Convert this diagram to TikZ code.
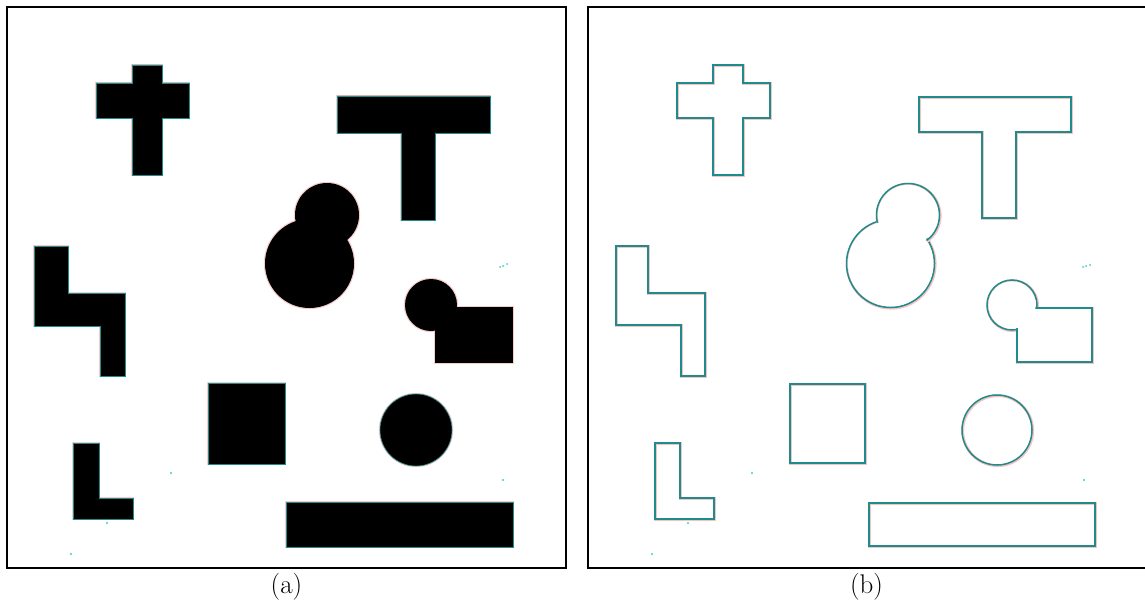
\documentclass[tikz,border=0pt]{standalone}
\usetikzlibrary{calc}
\definecolor{edgeteal}{HTML}{1E8C8C}
\definecolor{halo}{HTML}{F4A8A8}
\definecolor{speck}{HTML}{30D0D0}
\begin{document}
\begin{tikzpicture}[x=1pt,y=-1pt,
  frame/.style={line width=2pt,draw=black},
  solid shape/.style={fill=black,draw=edgeteal,line width=0.6pt,preaction={draw=halo!60,line width=2.4pt}},
  outl/.style={draw=edgeteal,line width=1.5pt,preaction={draw=halo!70,line width=2.8pt,transform canvas={shift={(0.7pt,-0.7pt)}}}},
  blank/.style={fill=white},
  lab/.style={font=\fontsize{27}{30}\selectfont,inner sep=0pt},
  dot/.style={fill=speck}]
\useasboundingbox (0,0) rectangle (1145,607);
% frames
\draw[frame] (7,7.5) rectangle (566,567.5);
\draw[frame] (588,7.5) rectangle (1150,567.5);
\node[lab] (la) at (286.5,587) {(a)};
\node[lab] (lb) at (866.5,587) {(b)};

% ---------- panel (a): solid shapes ----------
\begin{scope}
\path[solid shape] (132,65) -- (162,65) -- (162,83) -- (189,83) -- (189,118) -- (162,118) -- (162,175) -- (132,175) -- (132,118) -- (96,118) -- (96,83) -- (132,83) -- cycle;
\path[solid shape] (337,96) -- (490,96) -- (490,133) -- (435,133) -- (435,220) -- (401,220) -- (401,133) -- (337,133) -- cycle;
\path[solid shape] (34,246) -- (68,246) -- (68,293) -- (125,293) -- (125,376) -- (100,376) -- (100,326) -- (34,326) -- cycle;
\path[solid shape] (73,443) -- (99,443) -- (99,498) -- (133,498) -- (133,519) -- (73,519) -- cycle;
\path[solid shape] (208,383) rectangle (285,464);
\path[solid shape] (286,502) rectangle (513,547);
\path[solid shape] (416,430) circle[radius=36];
% blob
\draw[halo!60,line width=2.4pt] (309.5,263.5) circle[radius=44.5];
\draw[halo!60,line width=2.4pt] (327,215) circle[radius=32];
\fill[black] (309.5,263.5) circle[radius=44.5];
\fill[black] (327,215) circle[radius=32];
% circle + rectangle
\draw[halo!60,line width=2.4pt] (431,305) circle[radius=26];
\draw[halo!60,line width=2.4pt] (435,307) rectangle (513,363);
\fill[black] (431,305) circle[radius=26];
\fill[black] (435,307) rectangle (513,363);
% specks
\fill[dot] (171,473) circle[radius=1.2];
\fill[dot] (71,554) circle[radius=1.2];
\fill[dot] (107,523) circle[radius=1.2];
\fill[dot] (503,480) circle[radius=1.2];
\fill[dot] (500,267) circle[radius=1] (503,266) circle[radius=1] (507,264) circle[radius=1];
\end{scope}

% ---------- panel (b): outlines ----------
\begin{scope}[xshift=581pt]
\path[outl] (132,65) -- (162,65) -- (162,83) -- (189,83) -- (189,118) -- (162,118) -- (162,175) -- (132,175) -- (132,118) -- (96,118) -- (96,83) -- (132,83) -- cycle;
\path[outl] (338,97) -- (490,97) -- (490,132) -- (435,132) -- (435,218) -- (401,218) -- (401,132) -- (338,132) -- cycle;
\path[outl] (35,246) -- (67,246) -- (67,293) -- (124,293) -- (124,376) -- (100,376) -- (100,325) -- (35,325) -- cycle;
\path[outl] (74,443) -- (99,443) -- (99,498) -- (133,498) -- (133,519) -- (74,519) -- cycle;
\path[outl] (209,384) rectangle (284,463);
\path[outl] (288,503) rectangle (514,546);
\path[outl] (416,430) circle[radius=35];
% blob outline (union of two circles)
\path[outl] (309.5,263.5) circle[radius=44];
\path[outl] (327,215) circle[radius=31.5];
\fill[blank] (309.5,263.5) circle[radius=42.6];
\fill[blank] (327,215) circle[radius=30.1];
% circle + rectangle outline
\path[outl] (431,305) circle[radius=25];
\path[outl] (436,308) rectangle (511,362);
\fill[blank] (431,305) circle[radius=23.6];
\fill[blank] (437.4,309.4) rectangle (509.6,360.6);
% specks
\fill[dot] (171,473) circle[radius=1.2];
\fill[dot] (71,554) circle[radius=1.2];
\fill[dot] (107,523) circle[radius=1.2];
\fill[dot] (503,480) circle[radius=1.2];
\fill[dot] (502,267) circle[radius=1] (505,266) circle[radius=1] (509,265) circle[radius=1];
\end{scope}
\end{tikzpicture}
\end{document}
